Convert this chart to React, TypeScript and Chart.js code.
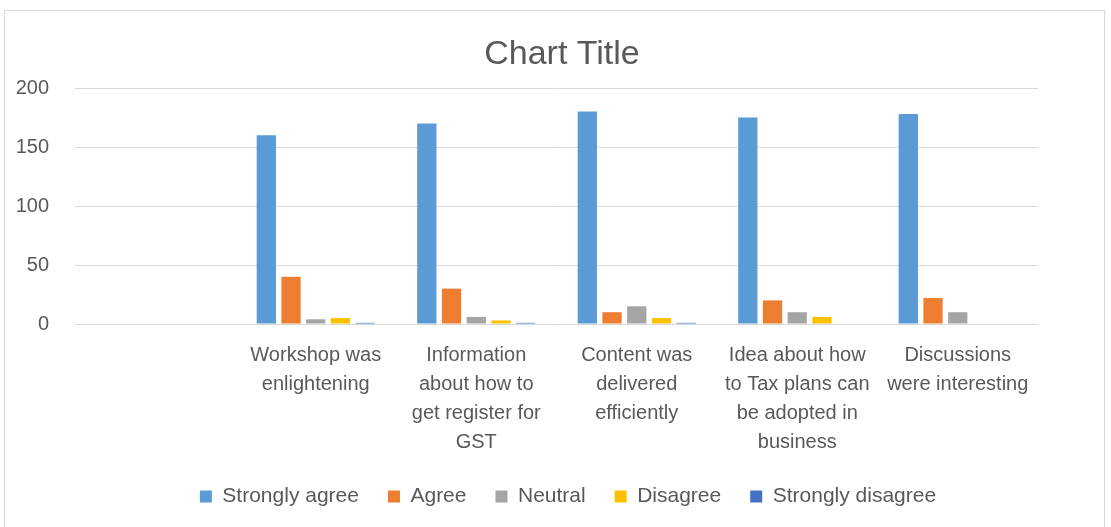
import React, { useEffect, useRef } from "react";
import { Chart, registerables } from "chart.js";

Chart.register(...registerables);

const categories: (string | string[])[] = [
  "",
  ["Workshop was", "enlightening"],
  ["Information", "about how to", "get register for", "GST"],
  ["Content was", "delivered", "efficiently"],
  ["Idea about how", "to Tax plans can", "be adopted in", "business"],
  ["Discussions", "were interesting"],
];

const stronglyAgree = [null, 160, 170, 180, 175, 178];
const agree = [null, 40, 30, 10, 20, 22];
const neutral = [null, 4, 6, 15, 10, 10];
const disagree = [null, 5, 3, 5, 6, 0];
const stronglyDisagree = [null, 1, 1, 1, 0, 0];

const yTicks = [0, 50, 100, 150, 200];

const FONT = "'Liberation Sans', Arial, sans-serif";
const TEXT = "#595959";

const shiftBlocks = {
  id: "shiftBlocks",
  afterLayout(chart: any) {
    const t = chart.titleBlock;
    if (t) {
      t.left += 43;
      t.right += 43;
    }
    const l = chart.legend;
    if (l) {
      l.left += 49;
      l.right += 49;
    }
  },
};

export default function App() {
  const ref = useRef<HTMLCanvasElement>(null);

  useEffect(() => {
    if (!ref.current) return;
    const chart = new Chart(ref.current, {
      type: "bar",
      data: {
        labels: categories,
        datasets: [
          { label: "Strongly agree", data: stronglyAgree, backgroundColor: "#5B9BD5" },
          { label: "Agree", data: agree, backgroundColor: "#ED7D31" },
          { label: "Neutral", data: neutral, backgroundColor: "#A5A5A5" },
          { label: "Disagree", data: disagree, backgroundColor: "#FFC000" },
          { label: "Strongly disagree", data: stronglyDisagree, backgroundColor: "#4472C4" },
        ] as any,
      },
      plugins: [shiftBlocks],
      options: {
        responsive: false,
        animation: false,
        datasets: {
          bar: { categoryPercentage: 0.77, barPercentage: 0.78, borderWidth: 0 },
        },
        layout: { padding: { left: 0, right: 73, top: 0, bottom: 10 } },
        plugins: {
          tooltip: { enabled: false },
          title: {
            display: true,
            text: "Chart Title",
            color: TEXT,
            font: { family: FONT, size: 34, weight: "normal" },
            padding: { top: 34, bottom: 13.2 },
          },
          legend: {
            position: "bottom",
            labels: {
              color: TEXT,
              font: { family: FONT, size: 21 },
              boxWidth: 12,
              boxHeight: 12,
              padding: 29,
            },
          },
        },
        scales: {
          x: {
            grid: { display: false, drawTicks: false },
            border: { display: false },
            afterFit: (s: any) => {
              s.height = s.height - 17;
            },
            ticks: {
              color: TEXT,
              font: { family: FONT, size: 20, lineHeight: 1.45 },
              padding: 17,
              maxRotation: 0,
              autoSkip: false,
            },
          },
          y: {
            min: 0,
            max: 200,
            afterFit: (s: any) => {
              s.width = 75;
            },
            afterBuildTicks: (s: any) => {
              s.ticks = yTicks.map((v) => ({ value: v }));
            },
            grid: { color: "#d9d9d9", drawTicks: false, lineWidth: 1 },
            border: { display: false },
            ticks: {
              color: TEXT,
              font: { family: FONT, size: 20 },
              padding: 26,
            },
          },
        },
      } as any,
    });
    return () => chart.destroy();
  }, []);

  return (
    <div style={{ position: "fixed", left: 0, top: 0, width: 1111, height: 527, background: "#fff" }}>
      <div
        style={{
          position: "absolute",
          left: 4,
          top: 10,
          width: 1101,
          height: 530,
          border: "1px solid #d9d9d9",
          boxSizing: "border-box",
        }}
      />
      <canvas ref={ref} width={1111} height={527} style={{ position: "absolute", left: 0, top: 0 }} />
    </div>
  );
}
